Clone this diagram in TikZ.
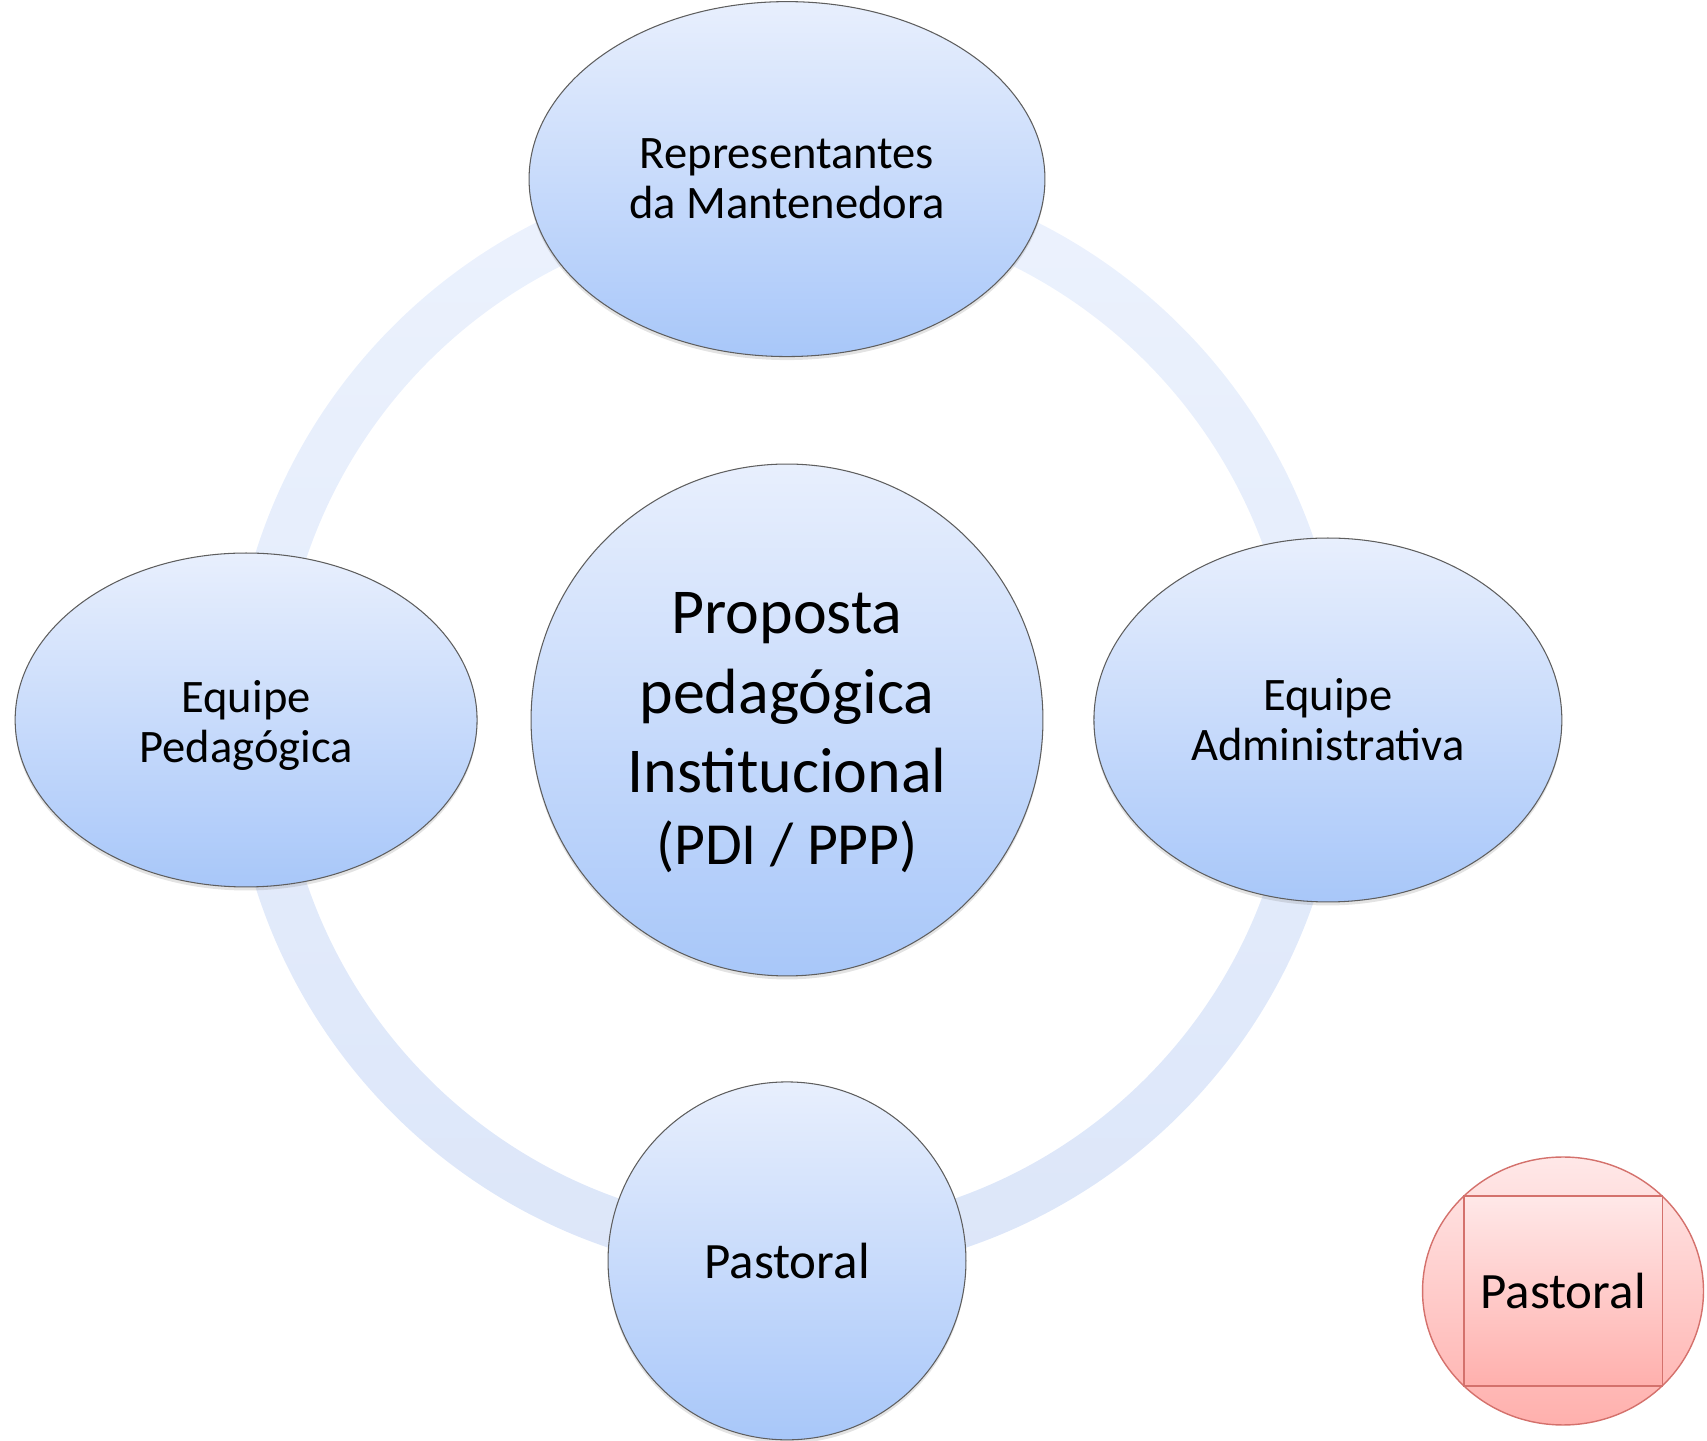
\documentclass[tikz,border=0pt]{standalone}
\usepackage{fontspec}
\setmainfont{Carlito}
\usepackage{xcolor}
\definecolor{blueTop}{HTML}{E8EFFD}
\definecolor{blueBot}{HTML}{A8C7F9}
\definecolor{ringTop}{HTML}{ECF2FD}
\definecolor{ringBot}{HTML}{DCE6F9}
\definecolor{pinkTop}{HTML}{FFE8E8}
\definecolor{pinkBot}{HTML}{FFB0AD}
\definecolor{pinkEdge}{HTML}{D4716C}
\definecolor{edge}{HTML}{5E5E5E}
\usepackage{tikz}
\usetikzlibrary{backgrounds}
\usetikzlibrary{shapes,shadows}
\usetikzlibrary{positioning}
\tikzstyle{team} = [ellipse, draw=edge, line width=0.6pt, top color=blueTop, bottom color=blueBot,
    align=center, inner sep=0pt, font=\fontsize{26.5}{28.5}\selectfont,
    drop shadow={shadow xshift=0pt, shadow yshift=-2pt, opacity=0.22}]
\tikzstyle{hub} = [circle, draw=edge, line width=0.6pt, top color=blueTop, bottom color=blueBot,
    align=center, inner sep=0pt, drop shadow={shadow xshift=0pt, shadow yshift=-2pt, opacity=0.22}]

\begin{document}
\begin{tikzpicture}[x=0.02cm, y=0.02cm, node distance=10.82cm]

% Define legend styles
\tikzstyle{legendring} = [ellipse, draw=pinkEdge, line width=0.8pt, top color=pinkTop, bottom color=pinkBot,
    minimum width=5.62cm, minimum height=5.36cm, inner sep=0pt];
\tikzstyle{legendbox} = [rectangle, draw=pinkEdge, line width=1.1pt, top color=pinkTop, bottom color=pinkBot,
    minimum width=3.98cm, minimum height=3.8cm, inner sep=0pt, font=\fontsize{29}{31}\selectfont];

\useasboundingbox (0,0) rectangle (1707,1440);

    % Place nodes
    \node [hub, minimum size=10.24cm, font=\fontsize{36.4}{45.2}\selectfont] (proposta) at (787,720)
        {\rule{0pt}{38pt}Proposta\\pedagógica\\Institucional\\[-4pt]{\fontsize{34}{40}\selectfont (PDI / PPP)}};
    \node [team, above of=proposta, minimum width=10.32cm, minimum height=7.1cm] (mantenedora)
        {Representantes\\da Mantenedora};
    \node [team, left of=proposta, minimum width=9.24cm, minimum height=6.68cm] (pedagogica)
        {\rule{0pt}{24pt}Equipe\\Pedagógica};
    \node [team, right of=proposta, minimum width=9.36cm, minimum height=7.28cm] (administrativa)
        {Equipe\\Administrativa};
    \node [hub, below of=proposta, minimum size=7.16cm, font=\fontsize{29}{31}\selectfont] (pastoral)
        {Pastoral};

    \node [legendring] (legend) at (1563,149) {};
    \node [legendbox] (legendlabel) at (legend.center) {Pastoral};

    % ring behind the teams
    \begin{scope}[on background layer]
    \shade [top color=ringTop, bottom color=ringBot, even odd rule]
        (proposta.center) circle [radius=557] (proposta.center) circle [radius=507];
    \end{scope}
\end{tikzpicture}
\end{document}
